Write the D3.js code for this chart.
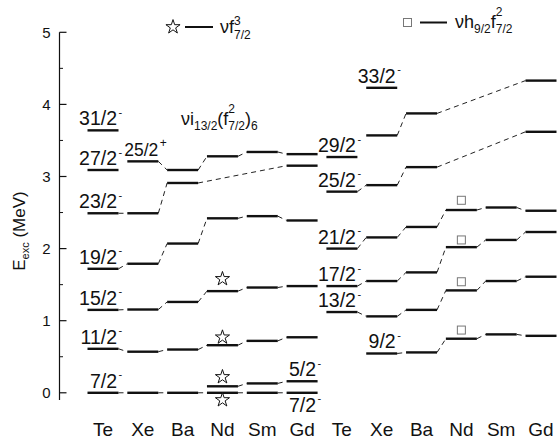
<!DOCTYPE html>
<html><head><meta charset="utf-8">
<script src="https://cdn.jsdelivr.net/npm/d3@7"></script>
<style>
body{margin:0;background:#fff}
text{font-family:"Liberation Sans",Arial,Helvetica,sans-serif;fill:#111}
</style>
</head><body>
<svg id="c" width="557" height="440"></svg>
<script>
// ---------- data ----------
const categories = ["Te","Xe","Ba","Nd","Sm","Gd","Te","Xe","Ba","Nd","Sm","Gd"];
const yTicks = [0,1,2,3,4,5];
const N = null;
// left group: nu f7/2 family (columns 0-5)
const L_31_2 = [3.64, N, N, N, N, N,  N, N, N, N, N, N];
const L_27_2 = [3.09, N, N, N, N, N,  N, N, N, N, N, N];
const L_25_2p= [N, 3.21, 3.09, 3.28, 3.34, 3.31,  N, N, N, N, N, N];
const L_23_2 = [2.49, 2.49, 2.91, N, N, 3.15,  N, N, N, N, N, N];
const L_19_2 = [1.72, 1.79, 2.07, 2.42, 2.45, 2.39,  N, N, N, N, N, N];
const L_15_2 = [1.15, 1.155, 1.26, 1.41, 1.46, 1.48,  N, N, N, N, N, N];
const L_11_2 = [0.61, 0.57, 0.60, 0.66, 0.72, 0.77,  N, N, N, N, N, N];
const L_7_2  = [0, 0, 0, 0, 0, 0,  N, N, N, N, N, N];
const L_5_2  = [N, N, N, 0.09, 0.13, 0.16,  N, N, N, N, N, N];
// right group: nu h9/2 f7/2^2 family (columns 6-11)
const R_33_2 = [N, N, N, N, N, N,  N, 4.23, N, N, N, N];
const R_29_2 = [N, N, N, N, N, N,  3.27, 3.57, 3.875, N, N, 4.33];
const R_25_2 = [N, N, N, N, N, N,  2.79, 2.88, 3.13, N, N, 3.62];
const R_21_2 = [N, N, N, N, N, N,  2.00, 2.155, 2.30, 2.535, 2.57, 2.525];
const R_17_2 = [N, N, N, N, N, N,  1.48, 1.55, 1.67, 2.02, 2.12, 2.23];
const R_13_2 = [N, N, N, N, N, N,  1.12, 1.06, 1.15, 1.42, 1.55, 1.61];
const R_9_2  = [N, N, N, N, N, N,  N, 0.545, 0.56, 0.75, 0.81, 0.79];

const bandSeries = [L_31_2, L_27_2, L_25_2p, L_23_2, L_19_2, L_15_2, L_11_2, L_7_2, L_5_2,
                    R_33_2, R_29_2, R_25_2, R_21_2, R_17_2, R_13_2, R_9_2];
const bandLabels = ["31/2","27/2","25/2","23/2","19/2","15/2","11/2","7/2","5/2",
                    "33/2","29/2","25/2","21/2","17/2","13/2","9/2"];
const bandParity = ["-","-","+","-","-","-","-","-","-",
                    "-","-","-","-","-","-","-"];
const bandLabelCol = [0,0,1,0,0,0,0,0,5, 7,6,6,6,6,6,7];
const bandNoFirstLink = [false,false,false,false,false,false,false,false,false,
                         false,true,false,false,false,false,false];
// extra label: 7/2- below Gd ground state
const extraLabelCol = 5, extraLabelE = 0, extraLabelText = "7/2", extraLabelSign = "-";

// markers
const starCol = 3;
const starE = [1.58, 0.77, 0.22, -0.10];
const squareCol = 9;
const squareE = [2.67, 2.12, 1.54, 0.87];

// ---------- drawing ----------
const svg = d3.select("#c");
const x = d3.scalePoint().domain(d3.range(categories.length)).range([103, 541]);
const y = d3.scaleLinear().domain([-0.1, 5]).range([400, 32.3]);
const hw = 15.5;

// y axis (ticks inward)
const axisX = 59.5;
const ax = svg.append("g").attr("transform", `translate(${axisX},0)`);
ax.append("line").attr("x1",0).attr("x2",0).attr("y1",y(5)).attr("y2",y(-0.1))
  .attr("stroke","#111").attr("stroke-width",1.2);
yTicks.forEach(t => {
  ax.append("line").attr("x1",0).attr("x2",7).attr("y1",y(t)).attr("y2",y(t))
    .attr("stroke","#111").attr("stroke-width",1.2);
  ax.append("text").attr("x",-9).attr("y",y(t)).attr("dy","0.36em")
    .attr("text-anchor","end").style("font-size","15px").text(t);
});
d3.range(0.5, 5, 1).forEach(t => {
  ax.append("line").attr("x1",0).attr("x2",3.5).attr("y1",y(t)).attr("y2",y(t))
    .attr("stroke","#111").attr("stroke-width",1);
});

// y axis title
const yt = svg.append("text").attr("transform","translate(25,231) rotate(-90)")
  .attr("text-anchor","middle").style("font-size","17px");
yt.append("tspan").text("E");
yt.append("tspan").attr("dy",4).style("font-size","11px").text("exc");
yt.append("tspan").attr("dy",-4).text(" (MeV)");

// category labels
svg.append("g").selectAll("text").data(categories).join("text")
  .attr("x",(d,i)=>x(i)).attr("y",436).attr("text-anchor","middle")
  .style("font-size","19px").text(d=>d);

// levels and connectors
const gl = svg.append("g");
bandSeries.forEach((vals, b) => {
  const pts = [];
  vals.forEach((v,i) => { if (v !== null) pts.push([i,v]); });
  for (let k = 0; k + 1 < pts.length; k++) {
    if (k === 0 && bandNoFirstLink[b]) continue;
    const [i0,v0] = pts[k], [i1,v1] = pts[k+1];
    gl.append("line").attr("x1",x(i0)+hw).attr("y1",y(v0)).attr("x2",x(i1)-hw).attr("y2",y(v1))
      .attr("stroke","#222").attr("stroke-width",1).attr("stroke-dasharray","5,4");
  }
  pts.forEach(([i,v]) => {
    gl.append("line").attr("x1",x(i)-hw).attr("x2",x(i)+hw).attr("y1",y(v)).attr("y2",y(v))
      .attr("stroke","#111").attr("stroke-width",2.4);
  });
});

// spin labels
function spinLabel(col, e, txt, sign, below, size, shift) {
  const bx = x(col) + 14 + (shift||0);
  const by = below ? y(e) + 19 : y(e) - 5;
  svg.append("text").attr("x",bx).attr("y",by).attr("text-anchor","end")
    .style("font-size",(size||19.5)+"px").text(txt);
  svg.append("text").attr("x",bx+1.5).attr("y",by-9.5).attr("text-anchor","start")
    .style("font-size", sign === "+" ? "12px" : "11px").text(sign === "-" ? "-" : "+");
}
bandSeries.forEach((vals,b) => {
  const c = bandLabelCol[b];
  const narrow = bandParity[b] === "+";
  spinLabel(c, vals[c], bandLabels[b], bandParity[b], false, narrow ? 17.5 : 19.5, narrow ? 1.5 : 0);
});
spinLabel(extraLabelCol, extraLabelE, extraLabelText, extraLabelSign, true);

// markers
const starPath = d3.symbol().type(d3.symbolStar).size(62)();
svg.append("g").selectAll("path").data(starE).join("path")
  .attr("d", starPath).attr("transform", d => `translate(${x(starCol)},${y(d)})`)
  .attr("fill","#fff").attr("stroke","#111").attr("stroke-width",1);
svg.append("g").selectAll("rect").data(squareE).join("rect")
  .attr("x", x(squareCol)-4).attr("y", d => y(d)-4).attr("width",8).attr("height",8)
  .attr("fill","#fff").attr("stroke","#777").attr("stroke-width",1);

// rich text helper
function rich(x0, y0, parts) {
  let cx = x0, holdW = null, holdX = null;
  parts.forEach(p => {
    const sx = holdX !== null ? holdX : cx;
    const t = svg.append("text").attr("x", sx).attr("y", y0 + (p.dy||0))
      .style("font-size", p.size + "px").text(p.t);
    const w = t.node().getComputedTextLength();
    if (p.hold) { holdX = sx; holdW = w; }
    else if (holdX !== null) { cx = holdX + Math.max(w, holdW); holdX = null; holdW = null; }
    else cx += w;
  });
}

// legend 1: star
svg.append("path").attr("d", starPath).attr("transform","translate(173,27)")
  .attr("fill","#fff").attr("stroke","#111").attr("stroke-width",1);
svg.append("line").attr("x1",185).attr("x2",213).attr("y1",27).attr("y2",27)
  .attr("stroke","#111").attr("stroke-width",2);
rich(220, 33, [{t:"\u03BDf", size:18}, {t:"3", size:12, dy:-8, hold:true}, {t:"7/2", size:12, dy:6}]);

// legend 2: square
svg.append("rect").attr("x",403.5).attr("y",18.5).attr("width",8).attr("height",8)
  .attr("fill","#fff").attr("stroke","#777").attr("stroke-width",1);
svg.append("line").attr("x1",420).attr("x2",447).attr("y1",22.5).attr("y2",22.5)
  .attr("stroke","#111").attr("stroke-width",2);
rich(455, 28, [{t:"\u03BDh", size:18}, {t:"9/2", size:12, dy:5}, {t:"f", size:18},
               {t:"2", size:12, dy:-12, hold:true}, {t:"7/2", size:12, dy:5}]);

// annotation nu i13/2 (f7/2^2)_6
rich(181, 125, [{t:"\u03BDi", size:18}, {t:"13/2", size:12, dy:5}, {t:"(f", size:18},
                {t:"2", size:12, dy:-12, hold:true}, {t:"7/2", size:12, dy:5},
                {t:")", size:18}, {t:"6", size:12, dy:5}]);
</script>
</body></html>
